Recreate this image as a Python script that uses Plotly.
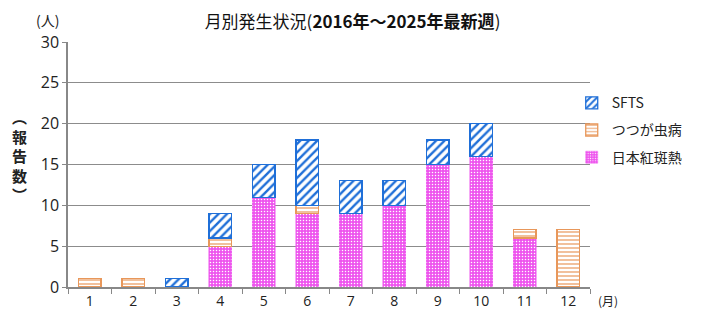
import plotly.graph_objects as go

months = [str(m) for m in range(1, 13)]
jsf = [0, 0, 0, 5, 11, 9, 9, 10, 15, 16, 6, 0]      # 日本紅斑熱
tsutsuga = [1, 1, 0, 1, 0, 1, 0, 0, 0, 0, 1, 7]     # つつが虫病
sfts = [0, 0, 1, 3, 4, 8, 4, 3, 3, 4, 0, 0]         # SFTS


def nz(vals):
    return [v if v else None for v in vals]


PINK = "#EE55EE"
ORANGE = "#E8975A"
BLUE = "#1F6FD8"
FONT = "Noto Sans CJK JP"

fig = go.Figure()
fig.add_trace(go.Bar(
    x=months, y=nz(jsf), name="日本紅斑熱", legendgroup="c", legendrank=3,
    marker=dict(color=PINK, line=dict(color=PINK, width=0.5),
                pattern=dict(shape=".", fgcolor="#FFFFFF", bgcolor=PINK, size=3, solidity=0.2, fgopacity=1)),
))
fig.add_trace(go.Bar(
    x=months, y=nz(tsutsuga), name="つつが虫病", legendgroup="b", legendrank=2,
    marker=dict(color="white", line=dict(color=ORANGE, width=1.3),
                pattern=dict(shape="-", fgcolor=ORANGE, bgcolor="white", size=4, solidity=0.3, fgopacity=1)),
))
fig.add_trace(go.Bar(
    x=months, y=nz(sfts), name="SFTS", legendgroup="a", legendrank=1,
    marker=dict(color="white", line=dict(color=BLUE, width=1.3),
                pattern=dict(shape="/", fgcolor=BLUE, bgcolor="white", size=6, solidity=0.4, fgopacity=1)),
))

fig.update_layout(
    barmode="stack",
    bargap=0.48,
    width=705, height=336,
    margin=dict(l=68, r=115, t=42, b=49),
    paper_bgcolor="white", plot_bgcolor="white",
    font=dict(family=FONT, size=14, color="#222"),
    title=dict(text="月別発生状況(<b>2016年～2025年最新週</b>)", x=0.5, xref="container", xanchor="center",
               y=0.935, yanchor="middle", font=dict(size=17, color="#111", family=FONT)),
    legend=dict(x=0.965, y=0.64, xanchor="left", yanchor="middle", traceorder="grouped",
                tracegroupgap=6, font=dict(size=14, family=FONT), itemwidth=30,
                bgcolor="rgba(0,0,0,0)"),
    xaxis=dict(type="category", tickson="boundaries", ticks="outside", ticklen=5, tickcolor="#888",
               showline=True, linecolor="#888", linewidth=1.5, tickfont=dict(size=14, family="Open Sans", color="#222")),
    yaxis=dict(range=[0, 30], dtick=5, showgrid=True, gridcolor="#8c8c8c", gridwidth=1.3,
               ticks="outside", ticklen=4, tickcolor="#888", showline=True, linecolor="#888", linewidth=1.5,
               tickfont=dict(size=16, family="Open Sans", color="#222"), zeroline=False),
    annotations=[
        dict(text="(人)", x=-0.04, y=1.09, xref="paper", yref="paper", xanchor="center", yanchor="middle",
             showarrow=False, font=dict(size=14)),
        dict(text="<b>︵<br>報<br>告<br>数<br>︶</b>", x=-0.093, y=0.535, xref="paper", yref="paper",
             xanchor="center", yanchor="middle", showarrow=False,
             font=dict(size=15, family=FONT), align="center"),
        dict(text="(月)", x=1.035, y=-0.055, xref="paper", yref="paper", xanchor="center", yanchor="middle",
             showarrow=False, font=dict(size=12)),
    ],
)

fig.write_html("out.html")
